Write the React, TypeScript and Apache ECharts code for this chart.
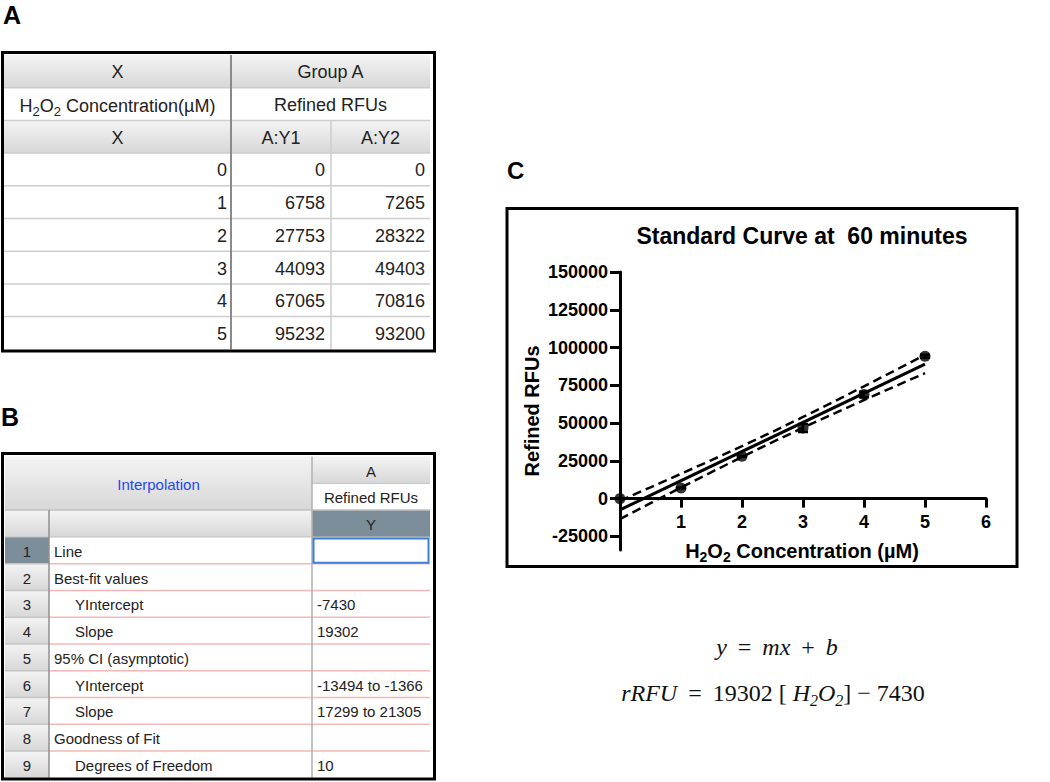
import React, { useEffect, useRef } from "react";
import * as echarts from "echarts";

// ---------- Data ----------
const concentrations = [0, 1, 2, 3, 4, 5];
const rfuY1 = [0, 6758, 27753, 44093, 67065, 95232];
const rfuY2 = [0, 7265, 28322, 49403, 70816, 93200];

const interpLabels = [
  "Line",
  "Best-fit values",
  "YIntercept",
  "Slope",
  "95% CI (asymptotic)",
  "YIntercept",
  "Slope",
  "Goodness of Fit",
  "Degrees of Freedom",
];
const interpIndent = [0, 0, 1, 1, 0, 1, 1, 0, 1];
const interpValues = ["", "", "-7430", "19302", "", "-13494 to -1366", "17299 to 21305", "", "10"];

const fitX = [0, 5];
const fitY = [-7430, 89080];
const bandX = [0, 0.5, 1, 1.5, 2, 2.5, 3, 3.5, 4, 4.5, 5];
const bandUpper = [-1366, 7488, 16424, 25486, 34738, 44245, 54040, 64090, 74330, 84696, 95144];
const bandLower = [-13494, -3046, 7320, 17560, 27610, 37405, 46912, 56164, 65226, 74162, 83016];

const xTicks = [1, 2, 3, 4, 5, 6];
const yTicks = [-25000, 0, 25000, 50000, 75000, 100000, 125000, 150000];

const SANS = '"Liberation Sans", Arial, Helvetica, sans-serif';
const SERIF = '"Liberation Serif", "DejaVu Serif", "Times New Roman", serif';

const hdrGrad = {
  type: "linear",
  x: 0,
  y: 0,
  x2: 0,
  y2: 1,
  colorStops: [
    { offset: 0, color: "#f4f4f4" },
    { offset: 1, color: "#d7d7d7" },
  ],
};

function buildGraphics() {
  const bg: any[] = [];
  const ln: any[] = [];
  const tx: any[] = [];
  const bd: any[] = [];

  const rect = (x: number, y: number, w: number, h: number, fill: any) =>
    bg.push({ type: "rect", silent: true, shape: { x, y, width: w, height: h }, style: { fill } });
  const line = (x1: number, y1: number, x2: number, y2: number, stroke: string, lw = 1) =>
    ln.push({ type: "line", silent: true, shape: { x1, y1, x2, y2 }, style: { stroke, lineWidth: lw } });
  const text = (
    x: number,
    y: number,
    t: string,
    size: number,
    align = "center",
    extra: any = {},
    rich?: any
  ) =>
    tx.push({
      type: "text",
      silent: true,
      x,
      y,
      style: {
        text: t,
        fontSize: size,
        fontFamily: SANS,
        fill: "#222",
        textAlign: align,
        align,
        textVerticalAlign: "middle",
        verticalAlign: "middle",
        rich,
        ...extra,
      },
    });

  // Panel letters
  text(3, 15, "A", 25, "left", { fontWeight: "bold", fill: "#000" });
  text(1, 417, "B", 25, "left", { fontWeight: "bold", fill: "#000" });
  text(507, 170, "C", 24, "left", { fontWeight: "bold", fill: "#000" });

  // ---------- Table A ----------
  const ac = [4, 231, 331, 430];
  const aTop = 55;
  const aH = 32.7;
  const ay = (i: number) => aTop + i * aH;
  rect(ac[0], ay(0), ac[3] - ac[0], aH, hdrGrad);
  rect(ac[0], ay(1), ac[3] - ac[0], aH, "#ffffff");
  rect(ac[0], ay(2), ac[3] - ac[0], aH, hdrGrad);
  for (let i = 3; i < 9; i++) rect(ac[0], ay(i), ac[3] - ac[0], aH, "#ffffff");
  for (let i = 1; i < 9; i++) line(ac[0], ay(i), ac[3], ay(i), "#cdcdcd", 1.5);
  line(ac[1], ay(0), ac[1], ay(9), "#8a8a8a", 2);
  line(ac[2], ay(2), ac[2], ay(9), "#cdcdcd", 1.5);

  const subRich = (size: number) => ({
    m: { fontSize: size, fontFamily: SANS, fill: "#222", lineHeight: size + 6 },
    s: { fontSize: Math.round(size * 0.72), fontFamily: SANS, fill: "#222", lineHeight: Math.round(size * 0.72), padding: [size * 0.62, 0, 0, 0] },
  });

  text((ac[0] + ac[1]) / 2, ay(0) + aH / 2 + 1, "X", 18);
  text((ac[1] + ac[3]) / 2, ay(0) + aH / 2 + 1, "Group A", 18);
  text((ac[0] + ac[1]) / 2, ay(1) + aH / 2 + 2, "{m|H}{s|2}{m|O}{s|2}{m| Concentration(µM)}", 18, "center", {}, subRich(18));
  text((ac[1] + ac[3]) / 2, ay(1) + aH / 2 + 1, "Refined RFUs", 18);
  text((ac[0] + ac[1]) / 2, ay(2) + aH / 2 + 1, "X", 18);
  text((ac[1] + ac[2]) / 2, ay(2) + aH / 2 + 1, "A:Y1", 18);
  text((ac[2] + ac[3]) / 2, ay(2) + aH / 2 + 1, "A:Y2", 18);
  concentrations.forEach((c, i) => {
    const yy = ay(3 + i) + aH / 2 + 1;
    text(ac[1] - 4, yy, String(c), 18, "right");
    text(ac[2] - 6, yy, String(rfuY1[i]), 18, "right");
    text(ac[3] - 5, yy, String(rfuY2[i]), 18, "right");
  });
  bd.push({
    type: "rect",
    silent: true,
    shape: { x: 2.5, y: 52.5, width: 432, height: 298.5 },
    style: { fill: "none", stroke: "#000", lineWidth: 3 },
  });

  // ---------- Table B ----------
  const bc = [5, 49, 312, 430];
  const h0 = 456.5, h1 = 483.5, h2 = 510, d0 = 537;
  const bH = 26.75;
  const by = (i: number) => d0 + i * bH;
  rect(bc[0], h0, bc[2] - bc[0], h2 - h0, hdrGrad);
  rect(bc[2], h0, bc[3] - bc[2], h1 - h0, hdrGrad);
  rect(bc[2], h1, bc[3] - bc[2], h2 - h1, "#ffffff");
  rect(bc[0], h2, bc[1] - bc[0], d0 - h2, hdrGrad);
  rect(bc[1], h2, bc[2] - bc[1], d0 - h2, hdrGrad);
  rect(bc[2], h2, bc[3] - bc[2], d0 - h2, "#7d8e9b");
  for (let i = 0; i < 9; i++) {
    rect(bc[0], by(i), bc[1] - bc[0], bH, i === 0 ? "#7d8e9b" : hdrGrad);
    rect(bc[1], by(i), bc[3] - bc[1], bH, "#ffffff");
  }
  line(bc[2], h1, bc[3], h1, "#c8c8c8", 1);
  line(bc[0], h2, bc[3], h2, "#c0c0c0", 1.5);
  line(bc[0], d0, bc[3], d0, "#c0c0c0", 1);
  for (let i = 1; i < 9; i++) {
    line(bc[0], by(i), bc[1], by(i), "#c4c4c4", 1.5);
    line(bc[1], by(i), bc[3], by(i), "#f5b8b8", 1.5);
  }
  line(bc[1], h2, bc[1], by(9), "#8f8f8f", 1.5);
  line(bc[2], h0, bc[2], by(9), "#b0b0b0", 1.5);

  text((bc[0] + bc[2]) / 2, (h0 + h2) / 2 + 1, "Interpolation", 15, "center", { fill: "#2448f2" });
  text((bc[2] + bc[3]) / 2, (h0 + h1) / 2 + 1, "A", 15);
  text((bc[2] + bc[3]) / 2, (h1 + h2) / 2 + 1, "Refined RFUs", 15);
  text((bc[2] + bc[3]) / 2, (h2 + d0) / 2 + 1, "Y", 15);
  interpLabels.forEach((lab, i) => {
    const yy = by(i) + bH / 2 + 1;
    text((bc[0] + bc[1]) / 2, yy, String(i + 1), 15);
    text(bc[1] + (interpIndent[i] ? 26 : 5), yy, lab, 15, "left");
    if (interpValues[i]) text(bc[2] + 5, yy, interpValues[i], 15, "left");
  });
  bd.push({
    type: "rect",
    silent: true,
    shape: { x: bc[2] + 1.5, y: by(0) + 1.5, width: bc[3] - bc[2] - 3, height: bH - 2.5 },
    style: { fill: "none", stroke: "#3b7fdb", lineWidth: 2 },
  });
  bd.push({
    type: "rect",
    silent: true,
    shape: { x: 2.5, y: 453.5, width: 432, height: 325.5 },
    style: { fill: "none", stroke: "#000", lineWidth: 3 },
  });

  // ---------- Panel C frame and texts ----------
  bd.push({
    type: "rect",
    silent: true,
    shape: { x: 507, y: 208.5, width: 510, height: 358 },
    style: { fill: "none", stroke: "#000", lineWidth: 3 },
  });
  text(802, 236, "Standard Curve at  60 minutes", 23, "center", { fontWeight: "bold", fill: "#000" });
  const boldSub = {
    m: { fontSize: 20, fontWeight: "bold", fontFamily: SANS, fill: "#000", lineHeight: 26 },
    s: { fontSize: 14, fontWeight: "bold", fontFamily: SANS, fill: "#000", lineHeight: 14, padding: [12, 0, 0, 0] },
  };
  text(802, 551, "{m|H}{s|2}{m|O}{s|2}{m| Concentration (µM)}", 20, "center", {}, boldSub);
  tx.push({
    type: "text",
    silent: true,
    x: 532,
    y: 411,
    rotation: Math.PI / 2,
    style: {
      text: "Refined RFUs",
      fontSize: 20,
      fontWeight: "bold",
      fontFamily: SANS,
      fill: "#000",
      textAlign: "center",
      align: "center",
      textVerticalAlign: "middle",
      verticalAlign: "middle",
    },
  });

  // Equations
  const eqRich = {
    i: { fontSize: 24, fontStyle: "italic", fontFamily: SERIF, fill: "#111", lineHeight: 30 },
    n: { fontSize: 24, fontFamily: SERIF, fill: "#111", lineHeight: 30 },
    o: { fontSize: 24, fontFamily: SERIF, fill: "#111", lineHeight: 30, padding: [0, 5, 0, 5] },
    s: { fontSize: 16, fontStyle: "italic", fontFamily: SERIF, fill: "#111", lineHeight: 16, padding: [14, 0, 0, 0] },
  };
  text(777, 647, "{i|y}{o| = }{i|mx}{o| + }{i|b}", 24, "center", {}, eqRich);
  text(773, 693, "{i|rRFU}{o| = }{n|19302 [ }{i|H}{s|2}{i|O}{s|2}{n|] }{n|− 7430}", 24, "center", {}, eqRich);

  return [...bg, ...ln, ...tx, ...bd];
}

export default function App() {
  const ref = useRef<HTMLDivElement>(null);
  useEffect(() => {
    if (!ref.current) return;
    const chart = echarts.init(ref.current, undefined, { renderer: "svg" });
    const means = concentrations.map((c, i) => [c, (rfuY1[i] + rfuY2[i]) / 2]);
    const bars = concentrations.map((c, i) => [c, Math.min(rfuY1[i], rfuY2[i]), Math.max(rfuY1[i], rfuY2[i])]);
    const axisFont = { fontSize: 18, fontWeight: "bold", fontFamily: SANS, color: "#000" };
    chart.setOption({
      animation: false,
      backgroundColor: "#ffffff",
      grid: { left: 620, top: 272, width: 366, height: 278, containLabel: false },
      xAxis: {
        type: "value",
        min: 0,
        max: 6,
        interval: 1,
        axisLine: { show: true, onZero: true, lineStyle: { color: "#000", width: 3 } },
        axisTick: { show: true, length: 9, lineStyle: { color: "#000", width: 3 }, customValues: xTicks },
        axisLabel: { ...axisFont, margin: -37, customValues: xTicks, formatter: (v: number) => String(v) },
        splitLine: { show: false },
      },
      yAxis: {
        type: "value",
        min: -34000,
        max: 150000,
        axisLine: { show: true, onZero: false, lineStyle: { color: "#000", width: 3 } },
        axisTick: { show: true, length: 10, lineStyle: { color: "#000", width: 3 }, customValues: yTicks },
        axisLabel: { ...axisFont, margin: 12, customValues: yTicks, formatter: (v: number) => String(v) },
        splitLine: { show: false },
      },
      graphic: { elements: buildGraphics() },
      series: [
        {
          type: "line",
          data: fitX.map((x, i) => [x, fitY[i]]),
          showSymbol: false,
          symbol: "none",
          lineStyle: { color: "#000", width: 3 },
          z: 3,
        },
        {
          type: "line",
          data: bandX.map((x, i) => [x, bandUpper[i]]),
          showSymbol: false,
          symbol: "none",
          lineStyle: { color: "#000", width: 2.5, type: [9, 5] },
          z: 3,
        },
        {
          type: "line",
          data: bandX.map((x, i) => [x, bandLower[i]]),
          showSymbol: false,
          symbol: "none",
          lineStyle: { color: "#000", width: 2.5, type: [9, 5] },
          z: 3,
        },
        {
          type: "custom",
          clip: false,
          data: bars,
          encode: { x: 0, y: [1, 2] },
          z: 4,
          renderItem: (params: any, api: any) => {
            const x = api.value(0);
            const lo = api.coord([x, api.value(1)]);
            const hi = api.coord([x, api.value(2)]);
            const cap = 5;
            const st = { stroke: "#000", lineWidth: 2.5 };
            return {
              type: "group",
              children: [
                { type: "line", shape: { x1: lo[0], y1: lo[1], x2: hi[0], y2: hi[1] }, style: st },
                { type: "line", shape: { x1: lo[0] - cap, y1: lo[1], x2: lo[0] + cap, y2: lo[1] }, style: st },
                { type: "line", shape: { x1: hi[0] - cap, y1: hi[1], x2: hi[0] + cap, y2: hi[1] }, style: st },
              ],
            };
          },
        },
        {
          type: "scatter",
          clip: false,
          data: means,
          symbol: "circle",
          symbolSize: 11,
          itemStyle: { color: "#000" },
          z: 5,
        },
      ],
    });
    return () => chart.dispose();
  }, []);
  return (
    <div
      ref={ref}
      style={{ position: "absolute", left: 0, top: 0, width: 1050, height: 782 }}
    />
  );
}
